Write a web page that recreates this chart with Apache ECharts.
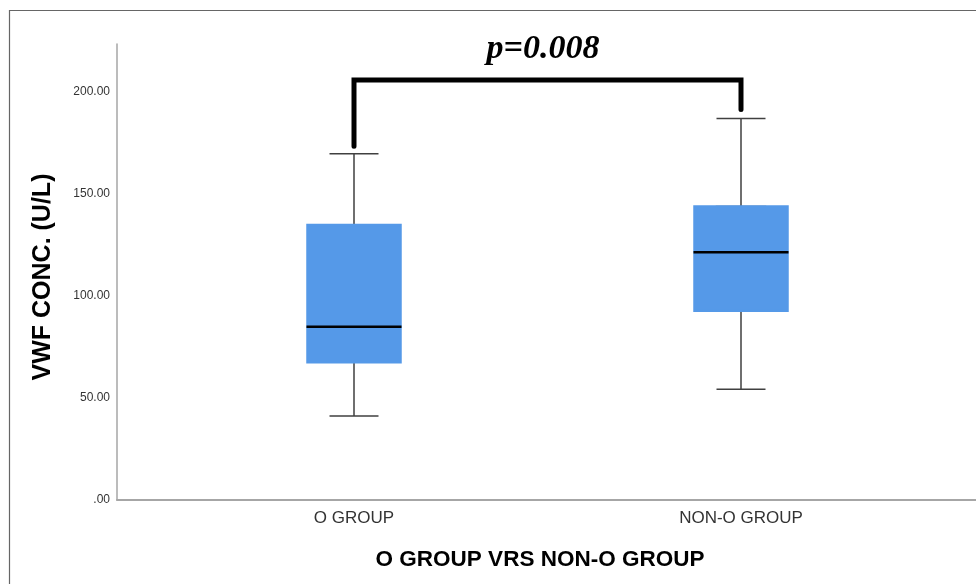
<!DOCTYPE html>
<html>
<head>
<meta charset="utf-8">
<script src="https://cdn.jsdelivr.net/npm/echarts@6/dist/echarts.min.js"></script>
<style>
  html, body { margin: 0; padding: 0; background: #fff; }
  #chart { width: 976px; height: 584px; }
</style>
</head>
<body>
<div id="chart"></div>
<script>
  // boxplot values
  var groups = ['O GROUP', 'NON-O GROUP'];
  var whiskerLow = [41.1, 54.2];
  var q1 = [67.4, 92.7];
  var median = [84.9, 121.3];
  var q3 = [134.7, 143.7];
  var whiskerHigh = [169.5, 186.8];

  // y axis
  var yMin = 0;
  var yMax = 223.3;
  var yInterval = 50;

  // significance bracket
  var bracketTop = 205.7;
  var bracketEnds = [173.2, 191.2];
  var pText = 'p=0.008';

  var chart = echarts.init(document.getElementById('chart'));

  var boxData = [];
  var bodyData = [];
  var medData = [];
  for (var i = 0; i < groups.length; i++) {
    boxData.push([whiskerLow[i], q1[i], median[i], q3[i], whiskerHigh[i]]);
    // candlestick: open, close, low, high
    bodyData.push([q1[i], q3[i], q1[i], q3[i]]);
    medData.push([median[i], median[i], median[i], median[i]]);
  }
  var bracketData = [
    [0, bracketEnds[0]],
    [0, bracketTop],
    [1, bracketTop],
    [1, bracketEnds[1]]
  ];

  var font = '"Liberation Sans", Arial, sans-serif';
  var boxBlue = '#5599e8';

  var option = {
    backgroundColor: '#fff',
    animation: false,
    grid: [
      { left: 160.5, right: 41.5, top: 44, bottom: 84 },
      { left: 117, right: 0, top: 44, bottom: 84 }
    ],
    xAxis: [
      {
        type: 'category',
        gridIndex: 0,
        data: groups,
        boundaryGap: true,
        axisLine: { show: false },
        axisTick: { show: false },
        axisLabel: { color: '#333', fontFamily: font, fontSize: 17, margin: 10 },
        name: 'O GROUP VRS NON-O GROUP',
        nameLocation: 'middle',
        nameGap: 48,
        nameTextStyle: {
          fontFamily: font, fontSize: 22.5, fontWeight: 'bold', color: '#000',
          padding: [0, 15, 0, 0]
        }
      },
      {
        // only the long baseline of the plot
        type: 'value',
        gridIndex: 1,
        min: 0,
        max: 1,
        axisLine: { show: true, onZero: false, lineStyle: { color: '#a6a6a6', width: 2 } },
        axisTick: { show: false },
        axisLabel: { show: false },
        splitLine: { show: false }
      }
    ],
    yAxis: [
      {
        type: 'value',
        gridIndex: 0,
        min: yMin,
        max: yMax,
        interval: yInterval,
        offset: 43.5,
        axisLine: { show: true, lineStyle: { color: '#a6a6a6', width: 1.5 } },
        axisTick: { show: false },
        splitLine: { show: false },
        axisLabel: {
          color: '#333',
          fontFamily: font,
          fontSize: 12,
          margin: 7,
          formatter: function (v) {
            if (v % yInterval !== 0) return '';
            return v === 0 ? '.00' : v.toFixed(2);
          }
        },
        name: 'VWF CONC. (U/L)',
        nameLocation: 'middle',
        nameRotate: 90,
        nameGap: 61,
        nameTextStyle: {
          fontFamily: font, fontSize: 25, fontWeight: 'bold', color: '#000',
          padding: [0, 10, 0, 0]
        }
      },
      {
        type: 'value',
        gridIndex: 1,
        min: yMin,
        max: yMax,
        show: false
      }
    ],
    series: [
      {
        // whiskers and caps (narrow box gets hidden under the body)
        name: 'whisker',
        type: 'boxplot',
        xAxisIndex: 0,
        yAxisIndex: 0,
        boxWidth: [49, 49],
        z: 2,
        itemStyle: { color: 'transparent', borderColor: '#404040', borderWidth: 1.5 },
        data: boxData
      },
      {
        name: 'box',
        type: 'candlestick',
        xAxisIndex: 0,
        yAxisIndex: 0,
        barWidth: 94,
        z: 3,
        itemStyle: {
          color: boxBlue, color0: boxBlue,
          borderColor: boxBlue, borderColor0: boxBlue,
          borderWidth: 2.5
        },
        data: bodyData
      },
      {
        name: 'median',
        type: 'candlestick',
        xAxisIndex: 0,
        yAxisIndex: 0,
        barWidth: 96,
        z: 4,
        itemStyle: {
          color: '#000', color0: '#000',
          borderColor: '#000', borderColor0: '#000',
          borderWidth: 2.5
        },
        data: medData
      },
      {
        name: 'bracket',
        type: 'line',
        xAxisIndex: 0,
        yAxisIndex: 0,
        z: 5,
        symbol: 'none',
        lineStyle: { color: '#000', width: 5, cap: 'round', join: 'miter' },
        data: bracketData
      }
    ],
    graphic: [
      {
        // outer frame, only top and left edges fall inside the page
        type: 'rect',
        silent: true,
        shape: { x: 9.5, y: 10.5, width: 1100, height: 700 },
        style: { fill: 'none', stroke: '#666', lineWidth: 1.2 }
      },
      {
        type: 'text',
        silent: true,
        x: 543,
        y: 66,
        style: {
          text: pText,
          fill: '#000',
          font: 'italic bold 34px "Liberation Serif", "Times New Roman", serif',
          textAlign: 'center',
          textVerticalAlign: 'bottom'
        }
      }
    ]
  };

  chart.setOption(option);
</script>
</body>
</html>
